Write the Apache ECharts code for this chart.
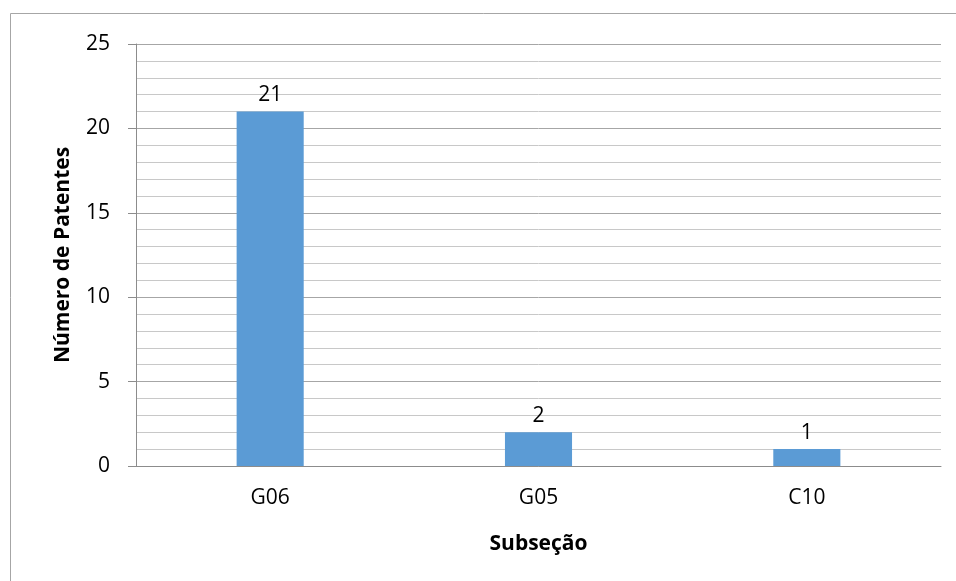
<!DOCTYPE html>
<html><head><meta charset="utf-8">
<script src="https://cdn.jsdelivr.net/npm/echarts@6/dist/echarts.min.js"></script>
<style>html,body{margin:0;padding:0;background:#fff}#c{width:956px;height:581px}</style>
</head><body><div id="c"></div>
<script>
const categories = ["G06", "G05", "C10"];
const values = [21, 2, 1];
const yTicks = [0, 5, 10, 15, 20, 25];
const font = "'Open Sans', 'Liberation Sans', sans-serif";
const chart = echarts.init(document.getElementById('c'));
chart.setOption({
  animation: false,
  backgroundColor: '#fff',
  graphic: [{type:'rect', shape:{x:10.5, y:13.5, width:960, height:600}, style:{fill:'none', stroke:'#a6a6a6', lineWidth:1}, silent:true}],
  grid: {left:136, right:15, top:44, bottom:115},
  xAxis: {
    type:'category', data: categories,
    axisLine:{show:true, lineStyle:{color:'#8c8c8c', width:1}},
    axisTick:{show:false},
    axisLabel:{color:'#000', fontSize:21, fontFamily:font, margin:22},
    name:'Subseção', nameLocation:'middle', nameGap:68,
    nameTextStyle:{color:'#000', fontSize:21, fontWeight:'bold', fontFamily:font}
  },
  yAxis: {
    type:'value', min:yTicks[0], max:yTicks[yTicks.length-1], interval:5,
    axisLine:{show:true, lineStyle:{color:'#8c8c8c'}},
    axisTick:{show:true, inside:false, length:8, lineStyle:{color:'#8c8c8c'}},
    axisLabel:{color:'#000', fontSize:21, fontFamily:font, margin:26},
    splitLine:{show:true, lineStyle:{color:'#a6a6a6'}},
    minorTick:{show:false, splitNumber:5},
    minorSplitLine:{show:true, lineStyle:{color:'#c8c8c8'}},
    name:'Número de Patentes', nameLocation:'middle', nameGap:62, nameRotate:90,
    nameTextStyle:{color:'#000', fontSize:21, fontWeight:'bold', fontFamily:font}
  },
  series: [{
    type:'bar', data: values, barWidth:'25%',
    itemStyle:{color:'#5b9bd5'},
    label:{show:true, position:'top', distance:6, color:'#000', fontSize:21, fontFamily:font}
  }]
});
</script></body></html>
